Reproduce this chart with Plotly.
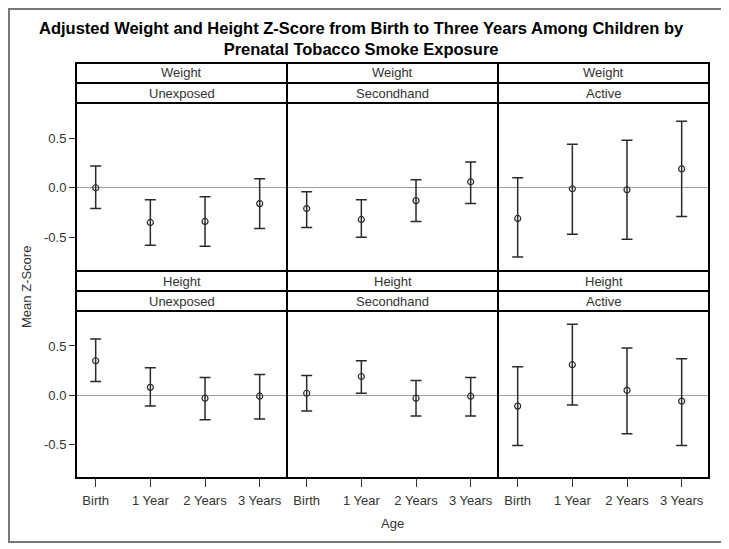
import plotly.graph_objects as go

# The page body has an 8px margin, so the figure is drawn 8px in from the window edge.
OFF = 8
W, H = 729 - OFF, 549 - OFF

ages = ["Birth", "1 Year", "2 Years", "3 Years"]
measures = ["Weight", "Height"]
groups = ["Unexposed", "Secondhand", "Active"]

# Weight
w_unexp_mean = [0.00, -0.35, -0.34, -0.16]
w_unexp_lo = [-0.21, -0.58, -0.59, -0.41]
w_unexp_hi = [0.22, -0.12, -0.09, 0.09]
w_second_mean = [-0.21, -0.32, -0.13, 0.06]
w_second_lo = [-0.40, -0.50, -0.34, -0.16]
w_second_hi = [-0.04, -0.12, 0.08, 0.26]
w_active_mean = [-0.31, -0.01, -0.02, 0.19]
w_active_lo = [-0.70, -0.47, -0.52, -0.29]
w_active_hi = [0.10, 0.44, 0.48, 0.67]
# Height
h_unexp_mean = [0.35, 0.08, -0.03, -0.01]
h_unexp_lo = [0.14, -0.11, -0.25, -0.24]
h_unexp_hi = [0.57, 0.28, 0.18, 0.21]
h_second_mean = [0.02, 0.19, -0.03, -0.01]
h_second_lo = [-0.16, 0.02, -0.21, -0.21]
h_second_hi = [0.20, 0.35, 0.15, 0.18]
h_active_mean = [-0.11, 0.31, 0.05, -0.06]
h_active_lo = [-0.51, -0.10, -0.39, -0.51]
h_active_hi = [0.29, 0.72, 0.48, 0.37]

panels = [
    [(w_unexp_mean, w_unexp_lo, w_unexp_hi),
     (w_second_mean, w_second_lo, w_second_hi),
     (w_active_mean, w_active_lo, w_active_hi)],
    [(h_unexp_mean, h_unexp_lo, h_unexp_hi),
     (h_second_mean, h_second_lo, h_second_hi),
     (h_active_mean, h_active_lo, h_active_hi)],
]

# pixel geometry (window coordinates)
col_px = [(76, 287), (287, 498), (498, 709)]
row_plot_px = [(103, 271), (311, 478)]
row_strip_px = [(63, 83, 103), (271, 291, 311)]

def px_x(p):
    return (p - OFF) / W

def px_y(p):
    return 1 - (p - OFF) / H

FONT = "Liberation Sans, Arial, sans-serif"
TXT = "#333333"
MARK = "#2a2a2a"
FS = 13

fig = go.Figure()
layout = {}
shapes = []
annotations = []
x_pos = list(range(len(ages)))

for r in range(2):
    for c in range(3):
        idx = r * 3 + c + 1
        xa = "x" if idx == 1 else f"x{idx}"
        ya = "y" if idx == 1 else f"y{idx}"
        mean, lo, hi = panels[r][c]
        plus = [h - m for h, m in zip(hi, mean)]
        minus = [m - l for m, l in zip(mean, lo)]
        fig.add_trace(go.Scatter(
            x=x_pos, y=mean, mode="markers", xaxis=xa, yaxis=ya,
            marker=dict(symbol="circle-open", size=6, color=MARK, line=dict(width=1.2, color=MARK)),
            error_y=dict(type="data", symmetric=False, array=plus, arrayminus=minus,
                         color=MARK, thickness=1.5, width=5.5),
            showlegend=False, hoverinfo="skip"))
        x0, x1 = col_px[c]
        y0, y1 = row_plot_px[r]
        layout["xaxis" if idx == 1 else f"xaxis{idx}"] = dict(
            domain=[px_x(x0), px_x(x1)], anchor=ya,
            range=[-0.36, 3.5], tickvals=x_pos, ticktext=ages,
            showticklabels=(r == 1), ticks="outside" if r == 1 else "",
            ticklen=8, tickwidth=1, tickcolor=TXT, ticklabelstandoff=2,
            showgrid=False, zeroline=False, showline=False,
            tickfont=dict(family=FONT, size=FS, color=TXT), fixedrange=True)
        layout["yaxis" if idx == 1 else f"yaxis{idx}"] = dict(
            domain=[px_y(y1), px_y(y0)], anchor=xa,
            range=[-0.84, 0.855], tickvals=[-0.5, 0.0, 0.5],
            ticktext=["-0.5", "0.0", "0.5"],
            showticklabels=(c == 0), ticks="outside" if c == 0 else "",
            ticklen=6, tickwidth=1, tickcolor=TXT,
            showgrid=False, zeroline=True, zerolinecolor="#a0a0a0", zerolinewidth=1,
            showline=False,
            tickfont=dict(family=FONT, size=FS, color=TXT), fixedrange=True)
        # panel border
        shapes.append(dict(type="rect", xref="paper", yref="paper",
                           x0=px_x(x0), x1=px_x(x1), y0=px_y(y1), y1=px_y(y0),
                           line=dict(color="black", width=2), layer="above"))
        # strips
        s0, s1, s2 = row_strip_px[r]
        for (a, b), label in (((s0, s1), measures[r]), ((s1, s2), groups[c])):
            shapes.append(dict(type="rect", xref="paper", yref="paper",
                               x0=px_x(x0), x1=px_x(x1), y0=px_y(b), y1=px_y(a),
                               line=dict(color="black", width=2), fillcolor="white",
                               layer="above"))
            annotations.append(dict(text=label, xref="paper", yref="paper",
                                    x=px_x((x0 + x1) / 2), y=px_y((a + b) / 2),
                                    xanchor="center", yanchor="middle", showarrow=False,
                                    font=dict(family=FONT, size=FS, color=TXT)))

# outer frame
shapes.append(dict(type="rect", xref="paper", yref="paper",
                   x0=px_x(OFF + 1), x1=px_x(722), y0=px_y(542), y1=px_y(OFF + 1),
                   line=dict(color="#777777", width=2)))

annotations.append(dict(text="Mean Z-Score", xref="paper", yref="paper",
                        x=px_x(26), y=px_y(287), textangle=-90,
                        xanchor="center", yanchor="middle", showarrow=False,
                        font=dict(family=FONT, size=FS, color=TXT)))
annotations.append(dict(text="Age", xref="paper", yref="paper",
                        x=px_x(392), y=px_y(523),
                        xanchor="center", yanchor="middle", showarrow=False,
                        font=dict(family=FONT, size=FS, color=TXT)))
annotations.append(dict(
    text="<b>Adjusted Weight and Height Z-Score from Birth to Three Years Among Children by<br>Prenatal Tobacco Smoke Exposure</b>",
    xref="paper", yref="paper", x=px_x(361), y=px_y(38),
    xanchor="center", yanchor="middle", showarrow=False,
    font=dict(family=FONT, size=16.5, color="black")))

fig.update_layout(
    width=W, height=H, margin=dict(l=0, r=0, t=0, b=0),
    paper_bgcolor="white", plot_bgcolor="white",
    shapes=shapes, annotations=annotations, **layout)

fig.write_html("out.html")
